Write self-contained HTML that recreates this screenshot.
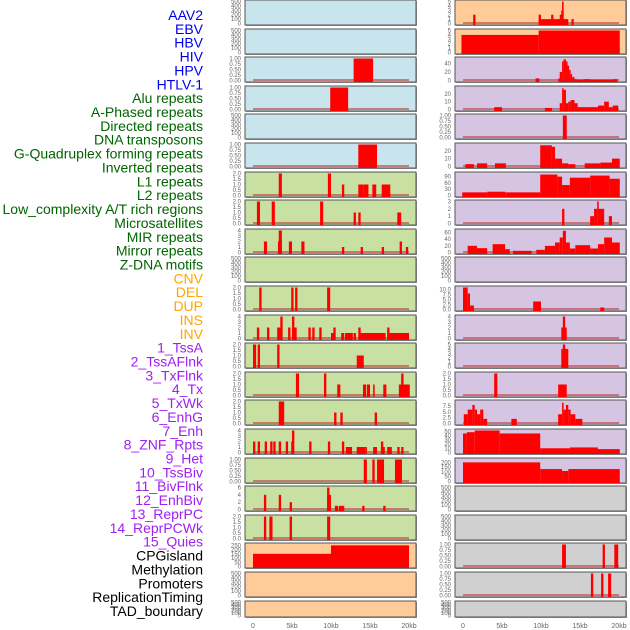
<!DOCTYPE html>
<html><head><meta charset="utf-8"><style>
html,body{margin:0;padding:0;background:#fff;width:630px;height:630px;overflow:hidden}
svg{display:block}
text{font-family:"Liberation Sans",sans-serif}
</style></head><body>
<svg id="chart" width="630" height="630"></svg>
<script>
const labels=["AAV2","EBV","HBV","HIV","HPV","HTLV-1","Alu repeats","A-Phased repeats","Directed repeats","DNA transposons","G-Quadruplex forming repeats","Inverted repeats","L1 repeats","L2 repeats","Low_complexity A/T rich regions","Microsatellites","MIR repeats","Mirror repeats","Z-DNA motifs","CNV","DEL","DUP","INS","INV","1_TssA","2_TssAFlnk","3_TxFlnk","4_Tx","5_TxWk","6_EnhG","7_Enh","8_ZNF_Rpts","9_Het","10_TssBiv","11_BivFlnk","12_EnhBiv","13_ReprPC","14_ReprPCWk","15_Quies","CPGisland","Methylation","Promoters","ReplicationTiming","TAD_boundary"];
const labelGroups=[6,13,5,15,5];
const groupColors=["#0000ee","#006400","#ffa500","#a020f0","#000000"];
const xTicks=[0,5,10,15,20];
const xTickLabels=["0","5kb","10kb","15kb","20kb"];
const T500=["0","100","200","300","400","500"], T1=["0.00","0.25","0.50","0.75","1.00"], T2=["0.0","0.5","1.0","1.5","2.0"], T4=["0","1","2","3","4"], T5=["0","1","2","3","4","5"];
const L0=[],L1=[],L4=[],L9=[],L20=[],L21=[];
const L2=[[12.9,15.4,1]];
const L3=[[9.9,12.2,1]];
const L5=[[13.5,15.9,1]];
const L6=[[3.3,3.7,2],[9.6,10.0,2],[11.4,11.7,1],[13.5,14.2,1],[14.2,14.8,1],[15.3,15.8,1],[16.5,17.6,1]];
const L7=[[0.5,0.9,2],[2.4,2.8,2],[8.6,9.0,2],[12.9,13.2,1],[13.5,13.8,1],[18.5,19.0,1]];
const L8=[[1.4,1.8,2],[3.3,3.7,4],[3.2,3.7,2],[4.6,5.0,2],[6.2,6.6,2],[11.4,11.7,1],[13.8,14.1,1],[16.5,16.8,1],[18.8,19.1,2],[19.6,19.9,1]];
const L10=[[0.8,1.1,2],[4.9,5.2,2],[5.4,5.7,2],[9.5,9.9,2]];
const L11=[[0.5,0.8,2],[1.8,2.1,2],[3.1,3.6,2],[3.5,3.8,4],[4.5,4.8,2],[5.0,5.3,4],[5.0,5.6,2],[7.1,7.4,2],[7.6,7.9,2],[8.5,8.8,2],[10.0,10.5,1],[10.3,10.6,2],[11.3,11.7,1],[11.8,12.8,1],[12.9,13.2,1],[13.5,13.8,2],[13.7,17.0,1],[17.2,17.5,2],[17.2,20.0,1]];
const L12=[[0,0.4,2],[0.6,0.9,2],[3.1,3.4,2],[13.3,14.2,1]];
const L13=[[5.5,5.9,2],[9.1,9.4,2],[10.8,11.2,1],[14.1,14.5,1],[14.6,15.0,1],[15.4,15.6,1],[16.7,17.1,1],[18.7,20.1,1],[19.0,19.3,2]];
const L14=[[3.3,4.0,2],[10.4,10.7,1],[11.2,11.5,1],[15.6,15.9,1]];
const L15=[[0,0.3,2],[0.6,0.9,2],[1.5,1.8,2],[2.2,2.5,2],[2.6,2.9,2],[3.3,3.6,2],[4.2,4.5,2],[4.9,5.2,2],[5.0,5.3,4],[7.2,7.5,2],[9.6,9.9,2],[11.4,11.7,2],[11.9,12.7,1],[13.3,14.4,1],[14.4,14.6,1],[15.4,15.9,1],[16.4,16.7,2],[16.4,16.9,1],[17.2,17.8,1],[18.5,18.8,1],[19.0,19.3,1]];
const L16=[[14.2,14.6,1],[15.3,15.6,1],[15.9,16.8,1],[18.2,19.1,1]];
const L17=[[1.4,1.7,4],[3.3,3.6,4],[4.7,5.0,2],[9.5,9.8,6],[9.5,10.0,4],[10.5,10.9,1],[11.0,11.7,1],[14.0,14.3,1],[16.7,17.0,1]];
const L18=[[1.4,1.7,2],[2.1,2.5,2],[4.7,5.0,2],[9.5,9.9,2]];
const L19=[[0,10.0,150],[10.0,20.0,250]];
const R9=[],R17=[],R18=[],R21=[];
const R0=[[1.3,1.6,2],[9.7,13.5,1],[9.7,10.0,2],[11.3,11.6,2],[12.4,12.7,2],[12.6,12.9,3],[12.7,12.9,5],[13.9,14.2,1]];
const R1=[[-0.2,9.7,4],[9.7,20.1,5]];
const R2=[[9.3,9.8,5],[12.2,12.4,5],[12.4,12.7,20],[12.7,12.9,45],[12.9,13.2,50],[13.2,13.4,45],[13.4,13.6,35],[13.6,13.8,25],[13.8,14.0,15],[14.0,14.3,8],[14.3,14.6,3],[14.6,15.5,2],[15.5,16.3,3],[16.3,19.2,2],[19.2,19.8,3]];
const R3=[[4.0,5.0,3],[10.5,11.4,2],[12.4,12.7,8],[12.7,12.9,27],[12.9,13.2,25],[13.2,13.5,8],[13.5,13.8,10],[13.8,14.3,12],[14.3,14.7,8],[14.7,17.3,3],[17.3,18.1,5],[18.1,18.7,10],[18.7,19.2,3],[19.2,19.9,5]];
const R4=[[12.8,13.3,1]];
const R5=[[0.3,1.4,3],[1.8,3.1,4],[4.1,5.5,4],[9.9,11.4,27],[11.4,11.8,25],[11.8,12.7,10],[12.7,13.5,4],[13.5,14.4,3],[15.6,17.6,4],[17.6,19.1,5],[19.1,20.1,10]];
const R6=[[-0.1,3.1,15],[3.1,5.4,18],[5.4,9.9,15],[9.9,12.1,100],[12.1,12.7,90],[12.7,13.7,50],[13.7,16.3,85],[16.3,18.8,95],[18.8,20.1,80]];
const R7=[[12.7,13.0,2],[16.3,16.8,1],[16.8,17.2,2],[17.2,17.4,3],[17.3,18.1,2],[18.7,19.1,1]];
const R8=[[0.6,1.8,20],[1.8,3.1,13],[3.8,5.4,25],[5.4,6.0,10],[6.4,8.8,5],[9.4,10.5,8],[10.5,11.8,20],[11.8,12.4,30],[12.4,12.8,45],[12.8,13.2,65],[13.2,13.7,30],[13.7,14.4,12],[14.4,16.3,22],[16.3,17.3,12],[17.3,18.1,25],[18.1,19.1,45],[19.1,20.1,30]];
const R10=[[0,0.6,11],[0.6,0.9,8],[0.9,1.4,2],[9.0,10.0,4],[17.6,18.1,1]];
const R11=[[12.6,13.3,2],[12.8,13.1,4]];
const R12=[[12.6,13.5,4],[12.8,13.1,5]];
const R13=[[4.0,4.4,2],[12.2,13.3,1]];
const R14=[[0.1,0.6,4],[0.6,1.2,6],[1.2,1.5,8],[1.5,1.8,6],[1.8,2.2,4],[2.2,2.6,6],[2.6,3.1,2],[6.2,6.9,2],[12.2,12.7,4],[12.7,12.9,9],[12.9,13.2,6],[13.2,13.5,8],[13.5,13.8,6],[13.8,14.4,4],[14.4,15.3,2]];
const R15=[[0,0.5,45],[0.5,1.5,48],[1.5,4.7,52],[4.7,9.9,45],[9.9,13.7,10],[13.7,17.3,12],[17.3,20.1,8]];
const R16=[[0,9.9,200],[9.9,12.7,130],[12.7,13.5,110],[13.5,20.1,130]];
const R19=[[12.7,13.2,1],[17.9,18.2,1],[19.4,19.9,1]];
const R20=[[16.4,16.7,1],[17.7,18.0,1],[18.6,19.0,1]];
const leftSegs=[L0,L1,L2,L3,L4,L5,L6,L7,L8,L9,L10,L11,L12,L13,L14,L15,L16,L17,L18,L19,L20,L21];
const rightSegs=[R0,R1,R2,R3,R4,R5,R6,R7,R8,R9,R10,R11,R12,R13,R14,R15,R16,R17,R18,R19,R20,R21];
const leftTicks=[T500,T500,T1,T1,T500,T1,T2,T2,T4,T500,T2,T4,T2,T2,T2,T4,T1,["0","2","4","6"],T2,["0","50","100","150","200","250"],T500,T500];
const leftMax=[500,500,1,1,500,1,2,2,4,500,2,4,2,2,2,4,1,6,2,260,500,500];
const rightTicks=[T5,T5,["0","20","40"],["0","10","20"],T1,["0","10","20"],["0","30","60","90"],["0","1","2","3"],["0","20","40","60"],T500,["0.0","2.5","5.0","7.5","10.0"],T4,T5,T2,["0.0","2.5","5.0","7.5"],["0","10","20","30","40","50"],["0","50","100","150","200"],T500,T500,T1,T1,T500];
const rightMax=[5,5,52,28,1,28,105,3,66,500,11,4,5,2,9.5,52,230,500,500,1,1,500];

const NS="http://www.w3.org/2000/svg";
const svg=document.getElementById('chart');
function mk(tag,attrs,parent){const e=document.createElementNS(NS,tag);for(const k in attrs)e.setAttribute(k,attrs[k]);(parent||svg).appendChild(e);return e;}

let k=0;
labelGroups.forEach((n,g)=>{for(let i=0;i<n;i++){const t=mk('text',{x:203,y:15+13.86*k+5,'text-anchor':'end','font-size':'14',fill:groupColors[g]});


t.textContent=labels[k];k++;}});

function bgLeft(i){return i<6?'#c8e4ec':(i<19?'#c8e0a2':'#ffcc99');}
function bgRight(i){return i<2?'#ffcc99':(i<17?'#d5c5e2':'#d0d0d0');}

function panel(x0,i,segs,ticks,max,bg,side){
  const top=Math.round(28.6*i), h=(i===21)?16:25, w=171;
  const g=mk('g',{});
  
  
  mk('rect',{x:x0+1,y:top+1,width:w,height:h,fill:'#999'},g);
  mk('rect',{x:x0,y:top,width:w,height:h,fill:bg,stroke:'#555','stroke-width':1},g);
  const xs=kb=>x0+8+kb*7.8;
  const y0=top+h-1.5, y1=top+1.5;
  const ys=v=>y0-(v/max)*(y0-y1);
  const empty=segs.length===0;
  if(!empty){const bl=mk('rect',{x:xs(0),y:y0-1.5,width:xs(20)-xs(0),height:2,fill:'rgba(190,60,60,0.6)'},g);
    }
  segs.forEach(s=>{const r=mk('rect',{x:xs(s[0]),y:ys(s[2]),width:Math.max(1.5,xs(s[1])-xs(s[0])),height:top+h-ys(s[2]),fill:'#ff0000'},g);
    
    });
  const tmax=parseFloat(ticks[ticks.length-1]);
  ticks.forEach(t=>{const v=parseFloat(t);const yy=y0-(v/tmax)*(y0-y1)*(tmax/max);
    const tt=mk('text',{x:x0-4,y:yy+2,'text-anchor':'end','font-size':'6',fill:'#666'},g);
    
    
    tt.textContent=t;});
}
for(let i=0;i<22;i++){
  panel(245,i,leftSegs[i],leftTicks[i],leftMax[i],bgLeft(i),'left');
  panel(455,i,rightSegs[i],rightTicks[i],rightMax[i],bgRight(i),'right');
}
[245,455].forEach(x0=>{xTicks.forEach((v,j)=>{const t=mk('text',{x:x0+8+v*7.8,y:628,'text-anchor':'middle','font-size':'7',fill:'#666'});
  
  
  t.textContent=xTickLabels[j];});});
</script>
</body></html>
